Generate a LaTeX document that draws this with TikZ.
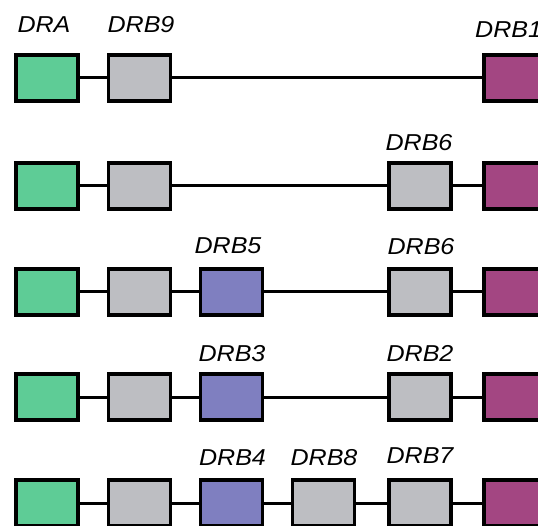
\documentclass[tikz,border=0pt]{standalone}
\usepackage{fontspec}
\setmainfont{Liberation Sans}
\newfontfamily\lblfont[FakeStretch=1.09]{Liberation Sans}
\definecolor{cgreen}{HTML}{5ECC96}
\definecolor{cgray}{HTML}{BDBEC2}
\definecolor{cblue}{HTML}{7F7FC0}
\definecolor{cmag}{HTML}{A34682}
\tikzset{
  gbox/.style={draw=black, line width=3.6pt, minimum width=62pt, minimum height=46.5pt, inner sep=0pt},
  greenbox/.style={gbox, fill=cgreen},
  graybox/.style={gbox, fill=cgray},
  bluebox/.style={gbox, fill=cblue},
  magbox/.style={gbox, fill=cmag},
  link/.style={draw=black, line width=3pt},
  lbl/.style={inner sep=0pt, anchor=base, font=\lblfont\fontsize{23}{26}\selectfont\itshape}
}
\begin{document}
\begin{tikzpicture}[x=1pt, y=-1pt]
\useasboundingbox (0,0) rectangle (538,526);
\clip (0,0) rectangle (538,526);
% row 1
\node[greenbox] (n11) at (47,78) {};
\node[graybox] (n12) at (139.5,78) {};
\node[magbox] (n16) at (515,78) {};
\draw[link] (n11) -- (n12);
\draw[link] (n12) -- (n16);
\node[lbl] (l11) at (44,33) {DRA};
\node[lbl] (l12) at (141,33) {DRB9};
\node[lbl, anchor=base west] (l16) at (475,38) {DRB1};
% row 2
\node[greenbox] (n21) at (47,186) {};
\node[graybox] (n22) at (139.5,186) {};
\node[graybox] (n25) at (420,186) {};
\node[magbox] (n26) at (515,186) {};
\draw[link] (n21) -- (n22);
\draw[link] (n22) -- (n25);
\draw[link] (n25) -- (n26);
\node[lbl] (l25) at (419,151) {DRB6};
% row 3
\node[greenbox] (n31) at (47,292) {};
\node[graybox] (n32) at (139.5,292) {};
\node[bluebox] (n33) at (231.5,292) {};
\node[graybox] (n35) at (420,292) {};
\node[magbox] (n36) at (515,292) {};
\draw[link] (n31) -- (n32);
\draw[link] (n32) -- (n33);
\draw[link] (n33) -- (n35);
\draw[link] (n35) -- (n36);
\node[lbl] (l33) at (228,254) {DRB5};
\node[lbl] (l35) at (421,255) {DRB6};
% row 4
\node[greenbox] (n41) at (47,397) {};
\node[graybox] (n42) at (139.5,397) {};
\node[bluebox] (n43) at (231.5,397) {};
\node[graybox] (n45) at (420,397) {};
\node[magbox] (n46) at (515,397) {};
\draw[link] (n41) -- (n42);
\draw[link] (n42) -- (n43);
\draw[link] (n43) -- (n45);
\draw[link] (n45) -- (n46);
\node[lbl] (l43) at (232,362) {DRB3};
\node[lbl] (l45) at (420,362) {DRB2};
% row 5
\node[greenbox] (n51) at (47,503) {};
\node[graybox] (n52) at (139.5,503) {};
\node[bluebox] (n53) at (231.5,503) {};
\node[graybox] (n54) at (323.5,503) {};
\node[graybox] (n55) at (420,503) {};
\node[magbox] (n56) at (515,503) {};
\draw[link] (n51) -- (n52);
\draw[link] (n52) -- (n53);
\draw[link] (n53) -- (n54);
\draw[link] (n54) -- (n55);
\draw[link] (n55) -- (n56);
\node[lbl] (l53) at (232.5,465) {DRB4};
\node[lbl] (l54) at (324,465) {DRB8};
\node[lbl] (l55) at (420,463) {DRB7};
\end{tikzpicture}
\end{document}
